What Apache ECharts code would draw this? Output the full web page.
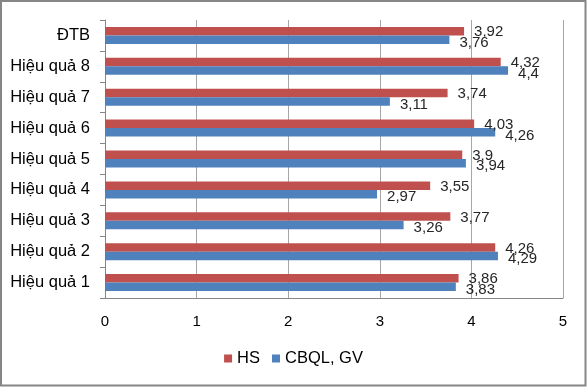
<!DOCTYPE html>
<html>
<head>
<meta charset="utf-8">
<script src="https://cdn.jsdelivr.net/npm/echarts@6/dist/echarts.min.js"></script>
<style>
html,body{margin:0;padding:0;background:#fff;}
#chart{width:587px;height:387px;}
</style>
</head>
<body>
<div id="chart"></div>
<script>
var categories = ["Hiệu quả 1","Hiệu quả 2","Hiệu quả 3","Hiệu quả 4","Hiệu quả 5","Hiệu quả 6","Hiệu quả 7","Hiệu quả 8","ĐTB"];
var hsValues = [3.86,4.26,3.77,3.55,3.9,4.03,3.74,4.32,3.92];
var gvValues = [3.83,4.29,3.26,2.97,3.94,4.26,3.11,4.4,3.76];
var seriesNames = ["HS","CBQL, GV"];
var xTicks = [0,1,2,3,4,5];

var chart = echarts.init(document.getElementById('chart'));
function fmt(p){ return String(p.value).replace('.', ','); }
var labelStyle = {show:true, position:'right', distance:10, formatter:fmt, color:'#262626', fontSize:15, fontFamily:'Liberation Sans'};
chart.setOption({
  animation:false,
  backgroundColor:'#fff',
  graphic:[{type:'rect', shape:{x:1,y:1,width:584.5,height:384.5}, style:{fill:'none', stroke:'#868686', lineWidth:2}, z:-1}],
  legend:{
    data:seriesNames, bottom:15, left:'center', itemWidth:8, itemHeight:8, itemGap:12, icon:'rect',
    textStyle:{fontSize:16.5, fontFamily:'Liberation Sans', color:'#000'}
  },
  grid:{left:105, right:24, top:20, bottom:89, containLabel:false},
  xAxis:{
    type:'value', min:0, max:5, interval:1,
    axisLine:{show:true, lineStyle:{color:'#868686'}},
    axisTick:{show:false},
    axisLabel:{fontSize:15, fontFamily:'Liberation Sans', color:'#000', margin:16, formatter:function(v){return xTicks.indexOf(v)>=0?String(v):'';}},
    splitLine:{show:true, lineStyle:{color:'#a6a6a6'}}
  },
  yAxis:{
    type:'category', data:categories,
    axisLine:{show:true, lineStyle:{color:'#868686'}},
    axisTick:{show:true, length:5, lineStyle:{color:'#868686'}},
    axisLabel:{fontSize:16.5, fontFamily:'Liberation Sans', color:'#000', margin:15}
  },
  series:[
    {name:seriesNames[0], type:'bar', data:hsValues, barWidth:8.5, barGap:'0%', itemStyle:{color:'#C0504D'}, label:Object.assign({}, labelStyle, {offset:[0,1]})},
    {name:seriesNames[1], type:'bar', data:gvValues, barWidth:8.5, barGap:'0%', itemStyle:{color:'#4F81BD'}, label:Object.assign({}, labelStyle, {offset:[0,3]})}
  ]
});
</script>
</body>
</html>
